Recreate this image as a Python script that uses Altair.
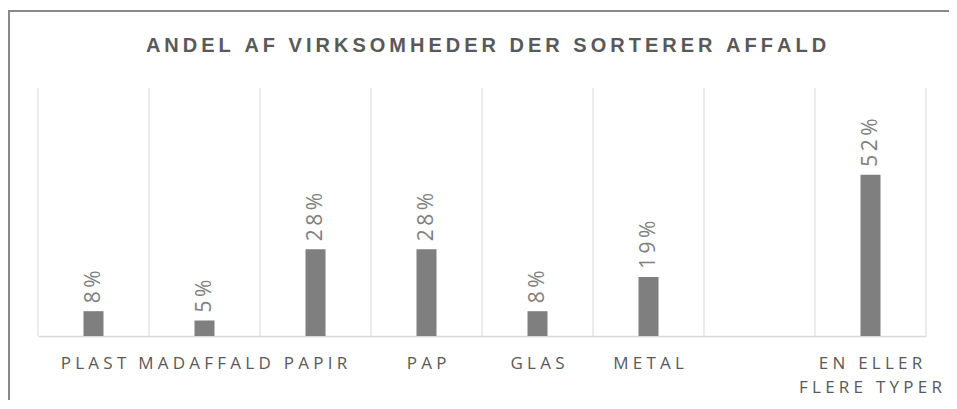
import altair as alt
import pandas as pd

TITLE = "ANDEL AF VIRKSOMHEDER DER SORTERER AFFALD"
CATEGORIES = ["PLAST", "MADAFFALD", "PAPIR", "PAP", "GLAS", "METAL", " ", "EN ELLER FLERE TYPER"]
BAR_CATEGORIES = ["PLAST", "MADAFFALD", "PAPIR", "PAP", "GLAS", "METAL", "EN ELLER FLERE TYPER"]
VALUES = [0.08, 0.05, 0.28, 0.28, 0.08, 0.19, 0.52]

W, H = 888, 248
PAD = {"left": 30, "top": 80, "right": 23, "bottom": 64}
SP = "\u2009"
SP_AXIS = "\u2005"

bars_df = pd.DataFrame({"cat": BAR_CATEGORIES, "value": VALUES})
grid_df = pd.DataFrame({"cat": CATEGORIES})
one_df = pd.DataFrame({"title": [TITLE]})

xscale = alt.Scale(domain=CATEGORIES, paddingInner=0, paddingOuter=0)
yscale = alt.Scale(domain=[0, 0.8])


def spaced(e, sp=SP):
    return f"join(split({e}, ''), '{sp}')"


label_expr = (
    f"datum.value == 'EN ELLER FLERE TYPER' ? "
    f"[{spaced(repr('EN ELLER'), SP_AXIS)}, {spaced(repr('FLERE TYPER'), SP_AXIS)}] : "
    f"{spaced('datum.value', SP_AXIS)}"
)

frame_top = alt.Chart(one_df).mark_rule(color="#898989", strokeWidth=2).encode(
    x=alt.value(-30), x2=alt.value(W + PAD["right"]), y=alt.value(-77)
)
frame_left = alt.Chart(one_df).mark_rule(color="#898989", strokeWidth=2).encode(
    x=alt.value(-29), y=alt.value(-78), y2=alt.value(H + PAD["bottom"])
)

title = alt.Chart(one_df).transform_calculate(
    t=spaced("datum.title")
).mark_text(
    font="Liberation Sans", fontSize=20, fontWeight="bold", color="#595959",
    align="center", baseline="alphabetic"
).encode(x=alt.value(W / 2 + 4), y=alt.value(-36), text="t:N")

grid = alt.Chart(grid_df).mark_rule(color="#d9d9d9", strokeWidth=1).encode(
    x=alt.X("cat:N", bandPosition=0, scale=xscale, sort=CATEGORIES, title=None),
    y=alt.value(0),
    y2=alt.value(H),
)
grid_right = alt.Chart(one_df).mark_rule(color="#d9d9d9", strokeWidth=1).encode(
    x=alt.value(W), y=alt.value(0), y2=alt.value(H)
)

base = alt.Chart(bars_df).encode(
    x=alt.X("cat:N", scale=xscale, sort=CATEGORIES, title=None),
    y=alt.Y("value:Q", scale=yscale, axis=None),
)

bars = base.mark_bar(size=20, color="#7f7f7f")

labels = base.transform_calculate(
    lab=f"join(split(format(datum.value, '.0%'), ''), '{SP}')"
).mark_text(
    angle=270, align="left", baseline="middle", dx=8,
    font="Open Sans", fontSize=21, color="#808080"
).encode(text="lab:N")

chart = alt.layer(frame_top, frame_left, title, grid, grid_right, bars, labels).properties(
    width=W,
    height=H,
    background="white",
    autosize=alt.AutoSizeParams(type="none"),
    padding=PAD,
).configure_axisX(
    labelAngle=0,
    ticks=False,
    grid=False,
    domainColor="#d9d9d9",
    domainWidth=1.5,
    labelFont="Open Sans",
    labelFontSize=17,
    labelColor="#595959",
    labelPadding=19,
    labelLineHeight=24,
    labelBaseline="top",
    labelLimit=0,
    labelExpr=label_expr,
).configure_view(strokeWidth=0)

chart.save("out.html", embed_options={"renderer": "svg", "actions": False})
